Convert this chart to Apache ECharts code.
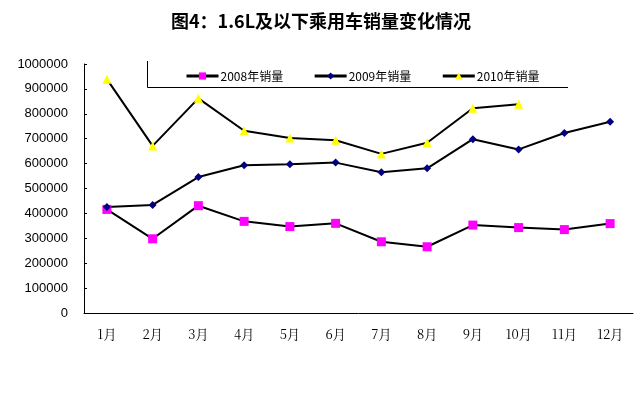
<!DOCTYPE html>
<html><head><meta charset="utf-8">
<script src="https://cdn.jsdelivr.net/npm/echarts@6/dist/echarts.min.js"></script>
<style>html,body{margin:0;padding:0;background:#fff}#c{width:642px;height:393px}</style>
</head><body><div id="c"></div>
<script>
const categories = ['1月','2月','3月','4月','5月','6月','7月','8月','9月','10月','11月','12月'];
const sales2008 = [416000, 298000, 431000, 368000, 347000, 360000, 286000, 266000, 353000, 343000, 335000, 359000];
const sales2009 = [426000, 434000, 546000, 593000, 597000, 604000, 565000, 581000, 698000, 657000, 723000, 768000];
const sales2010 = [939000, 671000, 862000, 732000, 703000, 694000, 639000, 684000, 822000, 838000];
const seriesNames = ['2008年销量', '2009年销量', '2010年销量'];

const chart = echarts.init(document.getElementById('c'));
const lineStyle = {color: '#000', width: 2};
chart.setOption({
  animation: false,
  backgroundColor: '#fff',
  title: {
    text: '图4：1.6L及以下乘用车销量变化情况',
    left: 'center', top: 7,
    textStyle: {fontSize: 18, fontWeight: 'bold', color: '#000', fontFamily: 'Noto Sans CJK SC'}
  },
  legend: {
    left: 180, top: 65,
    itemWidth: 32, itemHeight: 9, itemGap: 30,
    lineStyle: {width: 3, color: '#000'},
    textStyle: {fontSize: 12, color: '#000', fontFamily: 'Noto Sans CJK SC', padding: [0,0,0,-3]},
    data: seriesNames
  },
  graphic: [{
    type: 'polyline',
    shape: {points: [[147.5, 61], [147.5, 87.5], [568, 87.5]]},
    style: {stroke: '#000', lineWidth: 1, fill: null},
    z: 10
  }],
  grid: {left: 84, right: 9, top: 64, bottom: 80},
  xAxis: {
    type: 'category', data: categories, boundaryGap: true,
    axisLine: {lineStyle: {color: '#000', width: 1}},
    axisTick: {inside: true, length: 6, lineStyle: {color: '#000'}},
    axisLabel: {color: '#000', fontSize: 13, margin: 15, fontFamily: 'Noto Serif CJK SC, Noto Sans CJK SC'}
  },
  yAxis: {
    type: 'value', min: 0, max: 1000000, interval: 100000,
    splitLine: {show: false},
    axisLine: {show: true, lineStyle: {color: '#000', width: 1}},
    axisTick: {show: true, inside: true, length: 3, lineStyle: {color: '#000'}},
    axisLabel: {color: '#000', fontSize: 13, margin: 16, fontFamily: 'Liberation Sans, Arial',
      formatter: function (v) { return String(v); }}
  },
  series: [
    {name: seriesNames[0], type: 'line', data: sales2008, symbol: 'rect', symbolSize: 9,
     itemStyle: {color: '#FF00FF'}, lineStyle: lineStyle, z: 3},
    {name: seriesNames[1], type: 'line', data: sales2009, symbol: 'diamond', symbolSize: 8,
     itemStyle: {color: '#000080'}, lineStyle: lineStyle, z: 3},
    {name: seriesNames[2], type: 'line', data: sales2010, symbol: 'triangle', symbolSize: 9,
     itemStyle: {color: '#FFFF00'}, lineStyle: lineStyle, z: 3}
  ]
});
</script></body></html>
